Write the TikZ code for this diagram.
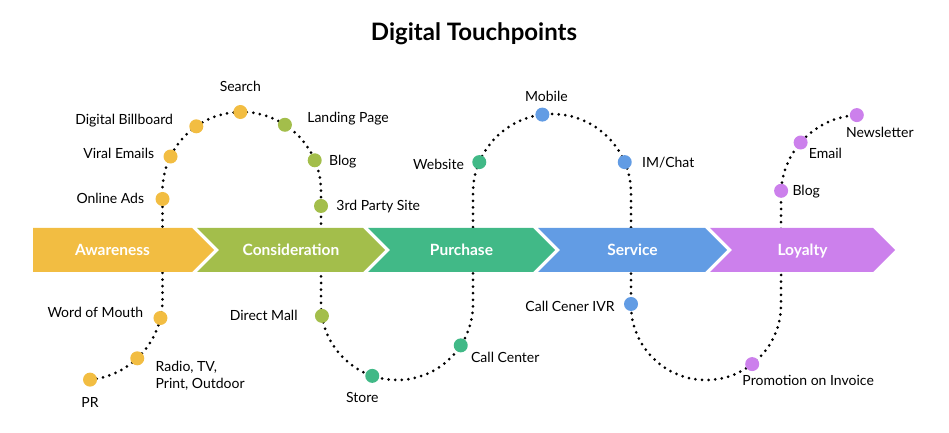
\documentclass[tikz,border=0pt]{standalone}
\usepackage{fontspec}
\setmainfont{Lato}
\usetikzlibrary{positioning}

\definecolor{awareC}{HTML}{F2BD42}
\definecolor{considerC}{HTML}{A3BE4B}
\definecolor{purchaseC}{HTML}{41B987}
\definecolor{serviceC}{HTML}{629CE4}
\definecolor{loyalC}{HTML}{CC80EC}

\tikzset{
  tdot/.style={circle, fill=#1, minimum size=14pt, inner sep=0pt},
  tlabel/.style={font=\fontsize{14}{17}\selectfont, inner sep=0pt, text height=10pt, text depth=0pt},
  trail/.style={line width=3pt, line cap=round, dash pattern=on 0pt off 6.6pt},
  stagetxt/.style={font=\bfseries\fontsize{15.5}{18}\selectfont, text=white, inner sep=0pt, text height=11pt, text depth=0pt},
}

\begin{document}
\begin{tikzpicture}[x=1pt, y=1pt]
    \useasboundingbox (0,0) rectangle (949,433);

    % title
    \node[font=\bfseries\fontsize{24}{28}\selectfont, anchor=base] (title) at (474,392) {Digital Touchpoints};

    % centres of the bends
    \coordinate (bendA) at (82.5,133);
    \coordinate (bendB) at (241.75,241.75);
    \coordinate (bendC) at (397,129);
    \coordinate (bendD) at (552,240);
    \coordinate (bendE) at (706,128);
    \coordinate (bendF) at (861,238);

    % dotted trail
    \draw[trail] ([shift={(-84.6:80)}]bendA) arc (-84.6:0:80) -- (162.5,241.75)
        arc (180:0:79.25) -- (321,129) arc (180:360:76) -- (473,240)
        arc (180:0:79) -- (631,128) arc (180:360:75) -- (781,238) arc (180:93:80);

    % stages
    \foreach \xa/\xb/\nd/\col/\name/\txt in {33/192/0/awareC/aware/Awareness,
        197/363/22/considerC/consider/Consideration, 368/533/22/purchaseC/purchase/Purchase,
        538/705/22/serviceC/service/Service, 710/873/22/loyalC/loyal/Loyalty}{
        \fill[\col] (\xa,205) -- (\xb,205) -- (\xb+22,183) -- (\xb,161) -- (\xa,161) -- (\xa+\nd,183) -- cycle;
        \node[stagetxt] (\name) at ({(\xa+\nd+\xb)/2},183) {\txt};
    }

    % awareness
    \node[tdot=awareC] (pr) at ([shift={(-84.6:80)}]bendA) {};
    \node[tdot=awareC] (radio) at ([shift={(-46.8:80)}]bendA) {};
    \node[tdot=awareC] (mouth) at ([shift={(-13:80)}]bendA) {};
    \node[tdot=awareC] (ads) at (162.5,234) {};
    \node[tdot=awareC] (viral) at ([shift={(154:79.25)}]bendB) {};
    \node[tdot=awareC] (billboard) at ([shift={(125:79.25)}]bendB) {};
    \node[tdot=awareC] (search) at ([shift={(91:79.25)}]bendB) {};

    % consideration
    \node[tdot=considerC] (landing) at ([shift={(57:79.25)}]bendB) {};
    \node[tdot=considerC] (blogA) at ([shift={(23:79.25)}]bendB) {};
    \node[tdot=considerC] (thirdparty) at (321,227) {};
    \node[tdot=considerC] (mall) at ([shift={(189:76)}]bendC) {};

    % purchase
    \node[tdot=purchaseC] (store) at ([shift={(251:76)}]bendC) {};
    \node[tdot=purchaseC] (callctr) at ([shift={(327:76)}]bendC) {};
    \node[tdot=purchaseC] (website) at ([shift={(157:79)}]bendD) {};

    % service
    \node[tdot=serviceC] (mobile) at ([shift={(97:79)}]bendD) {};
    \node[tdot=serviceC] (chat) at ([shift={(23:79)}]bendD) {};
    \node[tdot=serviceC] (ivr) at (631,129) {};

    % loyalty
    \node[tdot=loyalC] (promo) at ([shift={(308:75)}]bendE) {};
    \node[tdot=loyalC] (blogB) at ([shift={(177:80)}]bendF) {};
    \node[tdot=loyalC] (email) at ([shift={(139:80)}]bendF) {};
    \node[tdot=loyalC] (news) at ([shift={(93:80)}]bendF) {};

    % labels
    \node[tlabel, below=10pt of pr] (prtxt) {PR};
    \node[tlabel, right=11pt of radio, anchor=north west, yshift=-20pt, align=left] (radiotxt) {Radio, TV,\\Print, Outdoor};
    \node[tlabel, left=10pt of mouth, yshift=5pt] (mouthtxt) {Word of Mouth};
    \node[tlabel, left=11pt of ads] (adstxt) {Online Ads};
    \node[tlabel, left=9pt of viral, yshift=3pt] (viraltxt) {Viral Emails};
    \node[tlabel, left=16pt of billboard, yshift=7pt] (billboardtxt) {Digital Billboard};
    \node[tlabel, above=13pt of search] (searchtxt) {Search};
    \node[tlabel, right=15pt of landing, yshift=7pt] (landingtxt) {Landing Page};
    \node[tlabel, right=7pt of blogA] (blogAtxt) {Blog};
    \node[tlabel, right=8pt of thirdparty] (thirdpartytxt) {3rd Party Site};
    \node[tlabel, left=17pt of mall] (malltxt) {Direct Mall};
    \node[tlabel, below=9pt of store, xshift=-10pt] (storetxt) {Store};
    \node[tlabel, right=3pt of callctr, yshift=-12pt] (callctrtxt) {Call Center};
    \node[tlabel, left=8pt of website, yshift=-2pt] (websitetxt) {Website};
    \node[tlabel, above=6pt of mobile, xshift=4pt] (mobiletxt) {Mobile};
    \node[tlabel, right=10pt of chat] (chattxt) {IM/Chat};
    \node[tlabel, left=9pt of ivr, yshift=-3pt] (ivrtxt) {Call Cener IVR};
    \node[tlabel, below right=6pt and -15pt of promo] (promotxt) {Promotion on Invoice};
    \node[tlabel, right=4pt of blogB] (blogBtxt) {Blog};
    \node[tlabel, below right=1pt and 3pt of email] (emailtxt) {Email};
    \node[tlabel, below right=7pt and -16pt of news] (newstxt) {Newsletter};
\end{tikzpicture}
\end{document}
